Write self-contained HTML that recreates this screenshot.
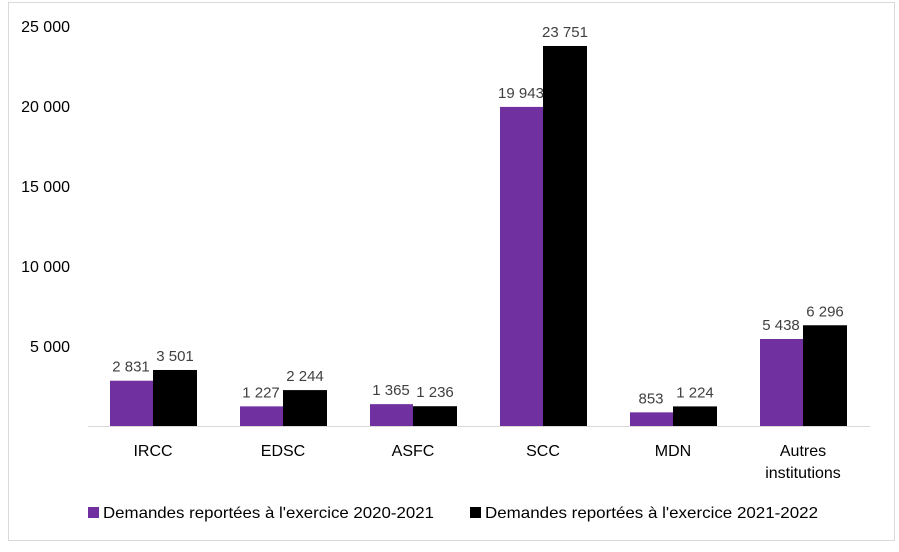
<!DOCTYPE html>
<html><head><meta charset="utf-8"><style>
body{margin:0;background:#fff;}
svg{display:block;font-family:"Liberation Sans",sans-serif;}
</style></head><body>
<svg id="c" width="899" height="552">
<rect x="8.5" y="2.5" width="886" height="538" fill="#fff" stroke="#d9d9d9"/>
</svg>
<script>
const categories=["IRCC","EDSC","ASFC","SCC","MDN","Autres|institutions"];
const series2021=[2831,1227,1365,19943,853,5438];
const series2022=[3501,2244,1236,23751,1224,6296];
const ticks=[5000,10000,15000,20000,25000];
const tickLabels=["5 000","10 000","15 000","20 000","25 000"];
const fmt=v=>String(v).replace(/\B(?=(\d{3})+(?!\d))/g," ");
const NS="http://www.w3.org/2000/svg",svg=document.getElementById("c");
const y=v=>426-v*80/5000, x0=88, step=130;
function el(t,a,txt){const e=document.createElementNS(NS,t);for(const k in a)e.setAttribute(k,a[k]);if(txt!=null)e.textContent=txt;svg.appendChild(e);return e;}
ticks.forEach((t,i)=>{const e=el("text",{x:70,y:y(t)+6,"text-anchor":"end","font-size":16,fill:"#000"},tickLabels[i]);

});
const ax=el("line",{x1:x0,x2:870,y1:426.5,y2:426.5,stroke:"#d9d9d9"});


categories.forEach((c,i)=>{const cx=x0+step*i+step/2;
const b1=el("rect",{x:cx-43,y:y(series2021[i]),width:43,height:426-y(series2021[i]),fill:"#7030a0"});


const b2=el("rect",{x:cx,y:y(series2022[i]),width:44,height:426-y(series2022[i]),fill:"#000"});


const l1=el("text",{x:cx-22,y:y(series2021[i])-9,"text-anchor":"middle","font-size":15,fill:"#404040"},fmt(series2021[i]));


const l2=el("text",{x:cx+22,y:y(series2022[i])-9,"text-anchor":"middle","font-size":15,fill:"#404040"},fmt(series2022[i]));


c.split("|").forEach((p,j)=>{const t=el("text",{x:cx,y:456+j*22,"text-anchor":"middle","font-size":16,fill:"#000"},p);

});
});
[["#7030a0","Demandes reportées à l'exercice 2020-2021",88,331],["#000","Demandes reportées à l'exercice 2021-2022",470,333]].forEach(d=>{
const s=el("rect",{x:d[2],y:507,width:11,height:11,fill:d[0]});


const t=el("text",{x:d[2]+15,y:518,"font-size":16,fill:"#000",textLength:d[3],lengthAdjust:"spacingAndGlyphs"},d[1]);

});
</script>
</body></html>
